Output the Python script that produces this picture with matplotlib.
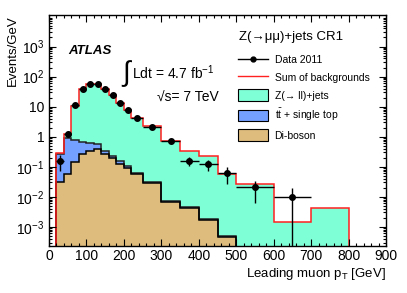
import numpy as np
import matplotlib.pyplot as plt
from matplotlib.lines import Line2D
from matplotlib.patches import Patch
from matplotlib.ticker import MultipleLocator, LogLocator, FixedLocator, NullFormatter

plt.rcParams['font.family'] = ['Liberation Sans', 'DejaVu Sans']
plt.rcParams['mathtext.default'] = 'regular'

# bin edges (GeV)
edges = [20, 40, 60, 80, 100, 120, 140, 160, 180, 200, 220, 250, 300, 350, 400, 450, 500, 600, 700, 800, 900]

# backgrounds, events/GeV
zjets = [0.01, 0.36, 10.0, 38.3, 56.4, 56.4, 38.7, 24.3, 12.7, 7.7, 4.14, 2.27, 0.69, 0.335, 0.228,
         0.057, 0.027, 0.0014, 0.0041, 0.0]
top = [0.24, 0.84, 0.63, 0.39, 0.26, 0.18, 0.08, 0.03, 0.04, 0.02, 0.003, 0.002, 0.0007, 0.0003, 0.0001,
       0.00004, 0.0, 0.0, 0.0, 0.0]
diboson = [0.030, 0.057, 0.14, 0.26, 0.34, 0.39, 0.26, 0.2, 0.12, 0.088, 0.057, 0.029, 0.0068, 0.0042, 0.0017,
           0.00046, 0.0, 0.0, 0.0, 0.0]

# data 2011
data = [0.16, 1.26, 11, 39, 57, 57, 39, 24.5, 12.9, 7.8, 4.2, 2.15, 0.74, 0.16, 0.123, 0.062, 0.0204, 0.0095]
data_err = [0.09, 0.25, 0.7, 1.4, 1.7, 1.7, 1.4, 1.1, 0.8, 0.6, 0.37, 0.2, 0.12, 0.057, 0.05, 0.035, 0.014, 0.0095]

edges = np.array(edges)
centers = 0.5 * (edges[1:] + edges[:-1])
halfw = 0.5 * (edges[1:] - edges[:-1])
floor = 1e-6

s1 = np.maximum(np.array(diboson), floor)
s2 = np.maximum(np.array(diboson) + np.array(top), floor)
s3 = np.maximum(np.array(diboson) + np.array(top) + np.array(zjets), floor)

fig = plt.figure(figsize=(4.07, 2.93), dpi=100)
ax = fig.add_axes([49 / 407, 1 - 246 / 293, 337 / 407, 231 / 293])
ax.set_yscale('log')

c_z = '#7fffd6'
c_top = '#74a0ff'
c_db = '#debc7d'

ax.stairs(s3, edges, baseline=floor, fill=True, color=c_z, lw=0)
ax.stairs(s2, edges, baseline=floor, fill=True, color=c_top, lw=0)
ax.stairs(s1, edges, baseline=floor, fill=True, color=c_db, lw=0)
ax.stairs(s2, edges, baseline=floor, fill=False, color='#222222', lw=1.1)
ax.stairs(s1, edges, baseline=floor, fill=False, color='black', lw=1.1)
ax.stairs(s3, edges, baseline=floor, fill=False, color='#ff2020', lw=1.1)

n = len(data)
yerr_lo = np.minimum(data_err, np.array(data) - 1e-6)
ax.errorbar(centers[:n], data, xerr=halfw[:n], yerr=[yerr_lo, data_err], fmt='o', color='black',
            ms=4, lw=1.0, capsize=0, zorder=5)

ax.set_xlim(0, 900)
ax.set_ylim(2.3e-4, 1.12e4)

ax.xaxis.set_major_locator(MultipleLocator(100))
ax.xaxis.set_minor_locator(MultipleLocator(20))
yt = [1e-3, 1e-2, 1e-1, 1, 10, 1e2, 1e3]
ax.yaxis.set_major_locator(FixedLocator(yt))
ax.set_yticklabels(['10$^{-3}$', '10$^{-2}$', '10$^{-1}$', '1', '10', '10$^{2}$', '10$^{3}$'])
ax.yaxis.set_minor_locator(LogLocator(base=10, subs=np.arange(2, 10), numticks=30))
ax.yaxis.set_minor_formatter(NullFormatter())
ax.tick_params(which='both', direction='in', top=True, right=True, labelsize=10, width=0.8)
ax.tick_params(which='major', length=5)
ax.tick_params(which='minor', length=2.5)
ax.tick_params(axis='x', pad=2)
for sp in ax.spines.values():
    sp.set_linewidth(1.0)

ax.set_xlabel('Leading muon p$_{T}$ [GeV]', fontsize=9.5, loc='right')
ax.xaxis.set_label_coords(1.0, -0.088)
ax.set_ylabel('Events/GeV', fontsize=9.5, loc='top')
ax.yaxis.set_label_coords(-0.09, 1.0)

ax.text(0.056, 0.845, 'ATLAS', transform=ax.transAxes, fontsize=9.5, fontweight='bold', style='italic',
        va='center')
ax.text(0.218, 0.745, '\u222b', transform=ax.transAxes, fontsize=20, va='center')
ax.text(0.245, 0.752, 'Ldt = 4.7 fb$^{-1}$', transform=ax.transAxes, fontsize=10, va='center')
ax.text(0.321, 0.643, '\u221as= 7 TeV', transform=ax.transAxes, fontsize=10, va='center')

ax.text(0.563, 0.905, 'Z(\u2192\u03bc\u03bc)+jets CR1', transform=ax.transAxes, fontsize=9.5, va='center')

handles = [
    Line2D([], [], color='black', marker='o', ms=3.5, lw=1.0),
    Line2D([], [], color='#ff2020', lw=1.0),
    Patch(facecolor=c_z, edgecolor='black', lw=0.8),
    Patch(facecolor=c_top, edgecolor='black', lw=0.8),
    Patch(facecolor=c_db, edgecolor='black', lw=0.8),
]
labels = ['Data 2011', 'Sum of backgrounds', 'Z(\u2192 ll)+jets', r't$\bar{t}$ + single top', 'Di-boson']
ax.legend(handles, labels, loc='upper left', bbox_to_anchor=(0.561, 0.83), frameon=False,
          fontsize=7.5, handlelength=2.9, handleheight=1.3, labelspacing=0.6, handletextpad=0.6,
          borderpad=0, borderaxespad=0)

fig.savefig('out.png', dpi=100)
